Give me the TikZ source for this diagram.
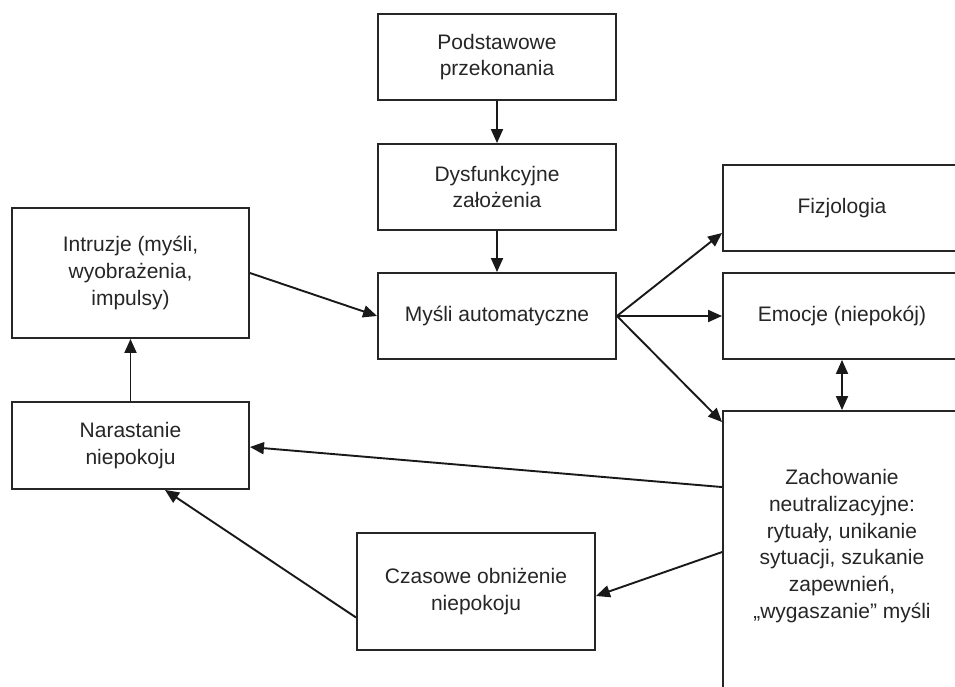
\documentclass[tikz,border=0pt]{standalone}
\usepackage{fontspec}
\setmainfont{Liberation Sans}
\usetikzlibrary{arrows.meta,calc}
\begin{document}
\begin{tikzpicture}[x=1bp,y=-1bp,
  box/.style={draw=black!85, line width=1.9bp, minimum width=238bp, minimum height=86bp, inner sep=0pt, align=center, font=\fontsize{21bp}{26.7bp}\selectfont, text=black!85},
  txt/.style={inner sep=0pt, align=center, font=\fontsize{21bp}{26.7bp}\selectfont, text=black!85},
  arr/.style={draw=black!90, line width=1.9bp, -{Triangle[length=14bp,width=12bp]}},
  darr/.style={draw=black!90, line width=1.9bp, {Triangle[length=14bp,width=12bp]}-{Triangle[length=14bp,width=12bp]}}
]
\useasboundingbox (0,0) rectangle (955,687);
\clip (0,0) rectangle (955,687);
\fill[white] (0,0) rectangle (955,687);

\node[box] (pods) at (497,57) {Podstawowe\\przekonania};
\node[box] (dysf) at (497,187) {Dysfunkcyjne\\założenia};
\node[box] (mysli) at (497,316) {Myśli automatyczne};
\node[box, minimum width=237bp, minimum height=130bp] (intr) at (130.5,273) {Intruzje (myśli,\\wyobrażenia,\\impulsy)};
\node[box, minimum width=237bp, minimum height=87bp] (nar) at (130.5,445.5) {Narastanie\\niepokoju};
\node[box, minimum height=117bp] (czas) at (476,591.5) {Czasowe obniżenie\\niepokoju};
\node[box] (fiz) at (842,208) {Fizjologia};
\node[box] (emo) at (842,316) {Emocje (niepokój)};
\node[box, minimum height=289bp] (zach) at (842,555.5) {};
\node[txt] (zacht) at (842,546) {Zachowanie\\neutralizacyjne:\\rytuały, unikanie\\sytuacji, szukanie\\zapewnień,\\„wygaszanie” myśli};

\draw[arr] (pods.south) -- (dysf.north);
\draw[arr] (dysf.south) -- (mysli.north);
\draw[arr] (intr.east) -- (mysli.west);
\draw[arr] (nar.north) -- (intr.south);
\draw[arr] (mysli.east) -- ($(fiz.south west)+(0,-19)$);
\draw[arr] (mysli.east) -- (emo.west);
\draw[arr] (mysli.east) -- ($(zach.north west)+(0,12)$);
\draw[darr] (emo.south) -- (zach.north);
\draw[arr] ($(zach.north west)+(0,77)$) -- ($(nar.east)+(0,1.5)$);
\draw[arr] ($(zach.north west)+(0,142)$) -- ($(czas.east)+(0,4.5)$);
\draw[arr] ($(czas.west)+(0,26)$) -- ($(nar.south)+(34.5,0)$);
\end{tikzpicture}
\end{document}
